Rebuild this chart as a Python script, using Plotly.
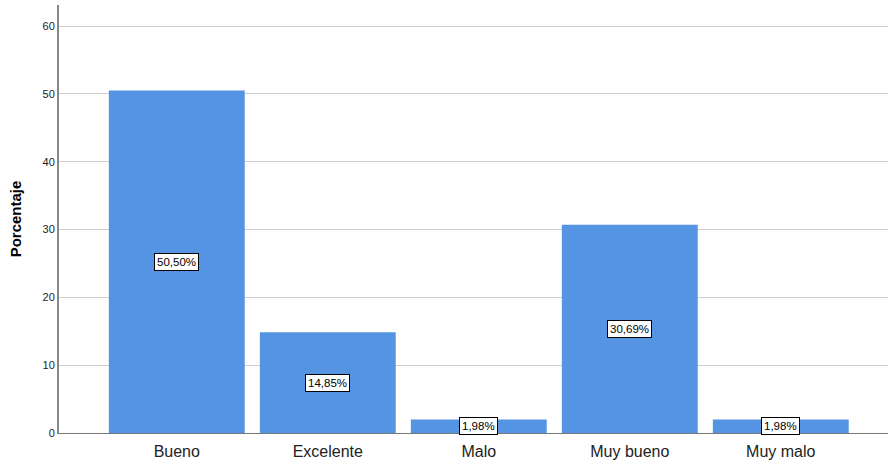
import plotly.graph_objects as go

categories = ["Bueno", "Excelente", "Malo", "Muy bueno", "Muy malo"]
values = [50.50, 14.85, 1.98, 30.69, 1.98]
labels = ["50,50%", "14,85%", "1,98%", "30,69%", "1,98%"]
y_ticks = [0, 10, 20, 30, 40, 50, 60]

fig = go.Figure()
fig.add_trace(go.Bar(
    x=list(range(len(categories))), y=values,
    marker=dict(color="#5594e3", line=dict(width=0)),
    width=0.9, hoverinfo="skip",
))
for i, (v, t) in enumerate(zip(values, labels)):
    fig.add_annotation(x=i, y=v / 2, text=t, showarrow=False,
                       font=dict(family="Arial, Liberation Sans", size=11.5, color="black"),
                       bgcolor="white", bordercolor="black", borderwidth=1, borderpad=2)

fig.update_layout(
    width=890, height=463,
    margin=dict(l=59, r=2, t=5, b=30),
    plot_bgcolor="white", paper_bgcolor="white",
    showlegend=False,
    font=dict(family="Arial, Liberation Sans"),
)
fig.update_xaxes(
    range=[-0.78, 4.71], automargin=False,
    tickmode="array", tickvals=list(range(len(categories))), ticktext=categories,
    tickfont=dict(size=16, color="#222"), ticklabelstandoff=4,
    showline=True, linecolor="#777", linewidth=1,
    showgrid=False, ticks="", zeroline=False,
)
fig.update_yaxes(
    range=[0, 63.1], automargin=False,
    tickmode="array", tickvals=y_ticks,
    tickfont=dict(size=11, color="#222"),
    showline=True, linecolor="#888", linewidth=2,
    showgrid=True, gridcolor="#cfcfcf", gridwidth=1,
    ticks="", zeroline=False,
    title=dict(text="<b>Porcentaje</b>", font=dict(size=15, color="black"), standoff=17),
)
fig.write_html("out.html", config={"displayModeBar": False},
               post_script="document.body.style.margin='0';")
